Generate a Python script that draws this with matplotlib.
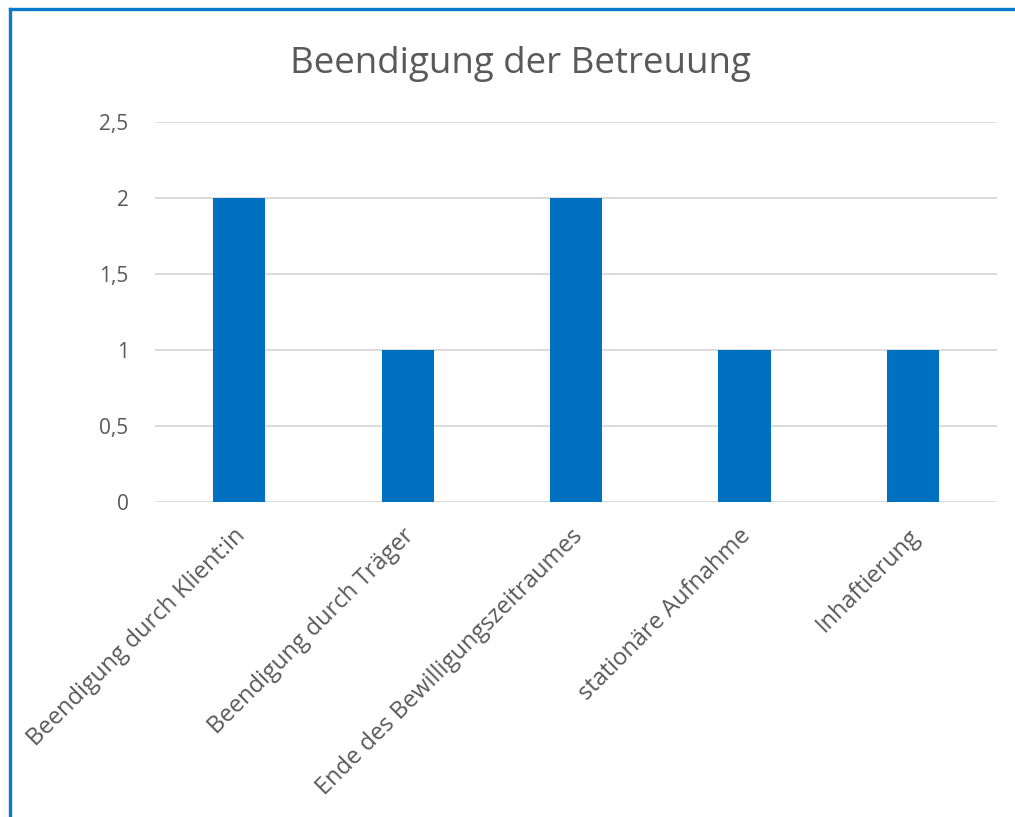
## Excel-style column chart: Beendigung der Betreuung
import matplotlib.pyplot as plt
import matplotlib.transforms as mtransforms
import numpy as np
from matplotlib.lines import Line2D

plt.rcParams['font.family'] = ['Open Sans', 'DejaVu Sans']

## data
categories = ['Beendigung durch Klient:in', 'Beendigung durch Träger',
              'Ende des Bewilligungszeitraumes', 'stationäre Aufnahme', 'Inhaftierung']
counts = [2, 1, 2, 1, 1]
y_ticks = [0, 0.5, 1, 1.5, 2, 2.5]
y_tick_labels = ['0', '0,5', '1', '1,5', '2', '2,5']

text_grey = '#595959'
bar_blue = '#0070C0'
grid_grey = '#D9D9D9'

fig = plt.figure(figsize=(10.15, 8.17), dpi=100)
ax = fig.add_axes([0.1527, 0.3856, 0.8296, 0.4651])

locations = np.arange(len(categories))
ax.bar(locations, counts, width=0.31, color=bar_blue, zorder=3)

ax.set_xlim(-0.5, len(categories) - 0.5)
ax.set_ylim(0, 2.5)
ax.set_yticks(y_ticks)
ax.set_yticklabels(y_tick_labels, color=text_grey, fontsize=15)
ax.yaxis.grid(True, color=grid_grey, linewidth=1.3, zorder=0)
ax.tick_params(axis='y', length=0, pad=19)
ax.tick_params(axis='x', length=0, pad=22)

ax.set_xticks(locations)
ax.set_xticklabels(categories, rotation=45, ha='right', va='center',
                   rotation_mode='anchor', color=text_grey, fontsize=17)
# nudge so the label ends sit just right of the category centre
offset = mtransforms.ScaledTranslation(0.03, 0.0, fig.dpi_scale_trans)
for lab in ax.get_xticklabels():
    lab.set_transform(lab.get_transform() + offset)

for side in ['top', 'right', 'left', 'bottom']:
    ax.spines[side].set_visible(False)

fig.text(0.5125, 0.9217, 'Beendigung der Betreuung', ha='center', va='center',
         fontsize=26.5, color=text_grey)

## blue frame on top and left, like the screenshot
frame_color = '#0A7BCC'
fig.add_artist(Line2D([0.0095, 1.0], [0.9895, 0.9895], color=frame_color,
                      linewidth=2.4, transform=fig.transFigure))
fig.add_artist(Line2D([0.0095, 0.0095], [0.0, 0.9895], color=frame_color,
                      linewidth=2.4, transform=fig.transFigure))

fig.savefig('out.png', dpi=100)
